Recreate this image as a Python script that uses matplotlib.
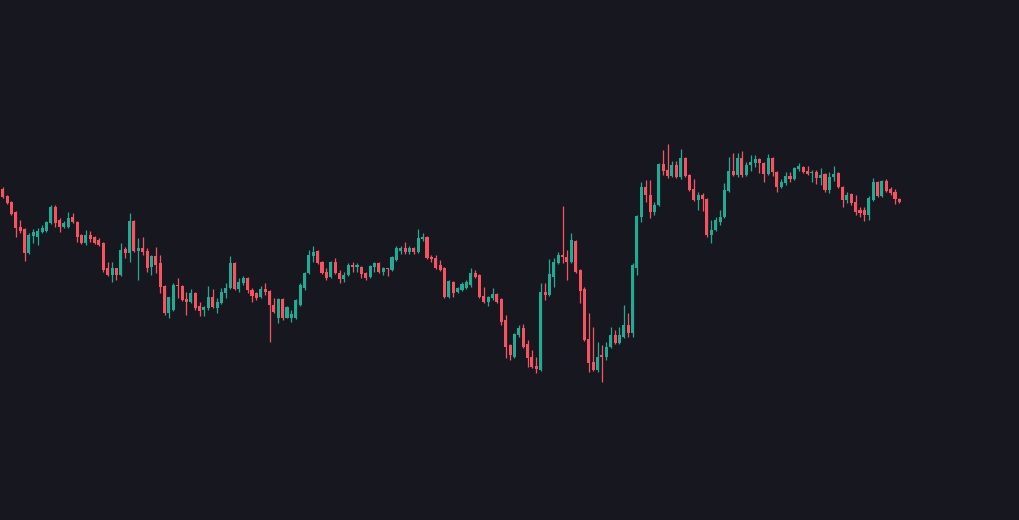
import numpy as np
import matplotlib
matplotlib.use('Agg')
import matplotlib.pyplot as plt

# OHLC, one row per candle
ohlc = [
    (331, 333, 322, 323), (324, 325, 316, 317), (318, 319, 305, 306), (308, 309, 283, 292),
    (293, 300, 287, 289), (291, 292, 259, 267), (267, 287, 266, 285), (284, 291, 277, 288),
    (283, 292, 275, 289), (288, 295, 287, 292), (289, 299, 288, 298), (297, 315, 296, 313),
    (313, 315, 293, 297), (300, 302, 288, 293), (293, 299, 292, 297), (293, 308, 292, 302),
    (303, 307, 297, 298), (298, 299, 278, 283), (285, 286, 276, 277), (277, 290, 275, 285),
    (285, 289, 278, 281), (283, 284, 276, 277), (280, 282, 274, 275), (277, 278, 248, 250),
    (252, 258, 244, 245), (245, 258, 238, 252), (252, 252, 240, 245), (245, 277, 244, 270),
    (271, 273, 262, 267), (267, 307, 258, 299), (299, 300, 268, 269), (269, 282, 240, 272),
    (272, 283, 265, 268), (269, 272, 248, 252), (253, 265, 245, 264), (264, 273, 247, 255),
    (257, 265, 227, 233), (234, 235, 205, 207), (207, 223, 202, 223), (210, 237, 209, 235),
    (235, 242, 222, 234), (234, 235, 219, 220), (221, 228, 205, 218), (218, 231, 217, 227),
    (227, 228, 210, 212), (214, 218, 204, 209), (210, 214, 204, 213), (212, 234, 210, 223),
    (223, 231, 212, 213), (212, 222, 207, 218), (217, 232, 216, 228), (227, 237, 222, 232),
    (232, 264, 231, 257), (257, 258, 230, 231), (231, 242, 228, 238), (237, 244, 235, 242),
    (242, 243, 227, 230), (230, 232, 218, 224), (227, 228, 220, 222), (223, 234, 222, 231),
    (231, 237, 225, 228), (229, 230, 178, 215), (215, 222, 207, 208), (202, 222, 197, 221),
    (221, 222, 200, 202), (202, 214, 202, 213), (202, 210, 198, 206), (202, 221, 201, 220),
    (215, 237, 214, 235), (232, 248, 230, 247), (247, 270, 246, 265), (264, 274, 258, 268),
    (269, 270, 256, 257), (258, 259, 246, 247), (248, 252, 240, 242), (243, 259, 242, 258),
    (258, 262, 246, 247), (247, 250, 237, 241), (241, 248, 238, 245), (245, 257, 244, 255),
    (255, 258, 248, 253), (253, 257, 248, 255), (253, 254, 242, 246), (247, 248, 240, 242),
    (243, 255, 242, 254), (253, 258, 248, 257), (257, 258, 247, 248), (248, 253, 245, 252),
    (252, 252, 244, 251), (250, 264, 249, 263), (260, 274, 259, 272), (269, 274, 266, 272),
    (272, 278, 266, 268), (268, 274, 266, 272), (272, 273, 266, 268), (268, 291, 267, 282),
    (281, 287, 279, 283), (283, 284, 261, 262), (263, 265, 258, 261), (262, 265, 251, 252),
    (255, 260, 249, 250), (252, 253, 222, 223), (223, 240, 222, 239), (238, 239, 223, 227),
    (228, 233, 227, 232), (230, 238, 229, 236), (232, 240, 231, 238), (235, 252, 233, 247),
    (247, 250, 242, 243), (245, 246, 222, 223), (224, 233, 217, 218), (218, 224, 214, 223),
    (222, 232, 220, 226), (226, 227, 217, 218), (221, 222, 195, 198), (200, 205, 162, 173),
    (175, 176, 160, 165), (163, 187, 162, 186), (185, 195, 183, 192), (192, 196, 172, 173),
    (176, 180, 153, 162), (163, 170, 152, 153), (154, 163, 147, 151), (150, 237, 149, 228),
    (228, 237, 220, 225), (225, 261, 224, 246), (243, 262, 233, 258), (257, 268, 256, 265),
    (265, 314, 257, 263), (263, 270, 240, 258), (258, 287, 257, 280), (279, 280, 247, 248),
    (250, 251, 217, 229), (231, 233, 179, 180), (181, 207, 148, 157), (158, 193, 149, 150),
    (150, 178, 148, 163), (165, 175, 138, 163), (163, 178, 160, 173), (173, 193, 172, 185),
    (185, 190, 176, 177), (177, 193, 176, 185), (183, 215, 182, 195), (195, 207, 183, 187),
    (187, 257, 183, 255), (252, 305, 245, 304), (303, 338, 298, 333), (333, 340, 318, 325),
    (325, 340, 302, 308), (308, 318, 305, 315), (315, 357, 314, 356), (356, 370, 345, 349),
    (350, 376, 342, 344), (344, 359, 343, 355), (355, 359, 342, 343), (343, 371, 341, 362),
    (362, 363, 343, 344), (345, 346, 329, 330), (331, 341, 319, 320), (320, 328, 310, 325),
    (325, 327, 309, 321), (321, 322, 283, 285), (285, 300, 277, 290), (290, 303, 289, 300),
    (298, 310, 295, 303), (303, 337, 302, 330), (329, 363, 328, 349), (349, 367, 344, 345),
    (345, 367, 343, 362), (362, 369, 343, 345), (345, 358, 344, 355), (355, 365, 349, 358),
    (357, 365, 353, 361), (361, 362, 347, 357), (357, 358, 338, 346), (346, 366, 345, 362),
    (362, 363, 344, 348), (348, 349, 328, 333), (333, 341, 332, 338), (337, 348, 335, 344),
    (344, 348, 338, 341), (341, 353, 340, 352), (351, 357, 349, 354), (353, 354, 347, 348),
    (349, 354, 345, 346), (347, 350, 338, 348), (348, 350, 336, 342), (342, 352, 335, 345),
    (346, 347, 328, 330), (330, 348, 327, 343), (343, 354, 339, 346), (347, 348, 332, 333),
    (333, 334, 313, 320), (320, 328, 317, 325), (326, 327, 315, 317), (318, 325, 305, 308),
    (310, 313, 303, 307), (310, 313, 299, 305), (305, 324, 300, 322), (320, 342, 319, 338),
    (338, 339, 323, 324), (324, 340, 323, 339), (339, 341, 328, 329), (331, 333, 325, 327),
    (328, 331, 316, 321), (321, 322, 317, 318),
]

df = np.array(ohlc, dtype=float)
opens, highs, lows, closes = df[:, 0], df[:, 1], df[:, 2], df[:, 3]
idx = np.arange(len(df))

up_col = '#22ab94'
down_col = '#f7525f'
bg = '#17181f'

up = closes >= opens
cols = np.where(up, up_col, down_col)

fig = plt.figure(figsize=(10.19, 5.2), dpi=100)
fig.patch.set_facecolor(bg)
ax = fig.add_axes([0, 0, 1, 1])
ax.set_facecolor(bg)

ax.vlines(idx, lows, highs, colors=cols, linewidth=0.9, zorder=1)
body_lo = np.minimum(opens, closes)
body_h = np.maximum(np.abs(closes - opens), 1.0)
ax.bar(idx, body_h, bottom=body_lo, width=0.7, color=cols, linewidth=0, zorder=2)

ax.set_xlim(-0.62, 232.35)
ax.set_ylim(0, 520)
ax.axis('off')

fig.savefig('out.png', dpi=100, facecolor=bg)
